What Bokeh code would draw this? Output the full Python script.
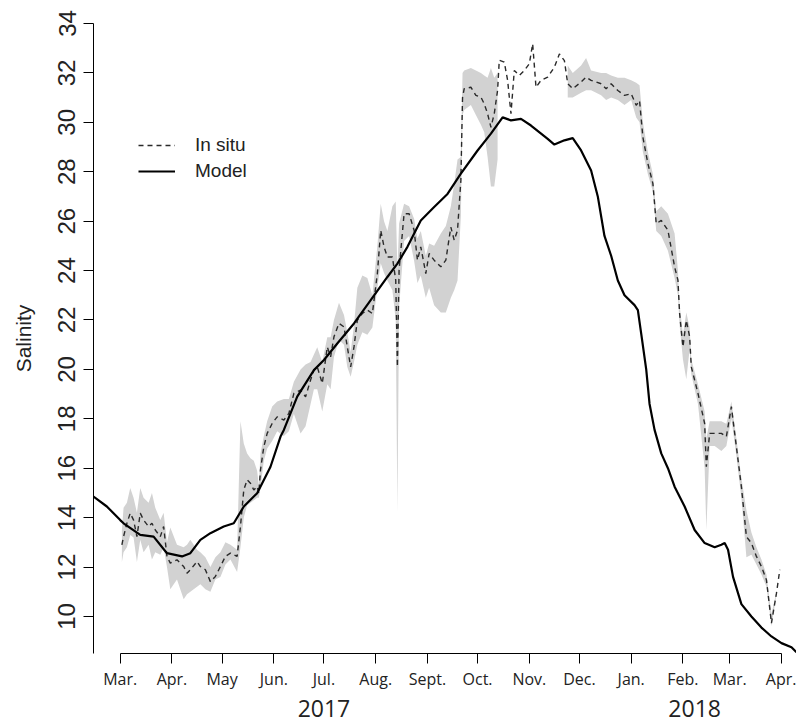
import math
import pandas as pd
from bokeh.plotting import figure
from bokeh.models import FixedTicker, LinearAxis, Legend, LegendItem, Range1d
from bokeh.embed import file_html
from bokeh.resources import INLINE

ORIGIN = pd.Timestamp("2017-03-01")

# ---- axis ticks ----
tick_dates = ["2017-03-01", "2017-04-01", "2017-05-01", "2017-06-01", "2017-07-01",
              "2017-08-01", "2017-09-01", "2017-10-01", "2017-11-01", "2017-12-01",
              "2018-01-01", "2018-02-01", "2018-03-01", "2018-04-01"]
tick_labels = ["Mar.", "Apr.", "May", "Jun.", "Jul.", "Aug.", "Sept.", "Oct.", "Nov.",
               "Dec.", "Jan.", "Feb.", "Mar.", "Apr."]
year_dates = ["2017-07-01", "2018-02-08"]
year_labels = ["2017", "2018"]
y_ticks = [10, 12, 14, 16, 18, 20, 22, 24, 26, 28, 30, 32, 34]
y_limits = [8.5, 34]

# ---- model (solid line) ----
model_dates = ["2017-02-13", "2017-02-21", "2017-03-01", "2017-03-03", "2017-03-13", "2017-03-21",
               "2017-03-29", "2017-04-07", "2017-04-12", "2017-04-18", "2017-04-24", "2017-05-02",
               "2017-05-08", "2017-05-14", "2017-05-22", "2017-05-30", "2017-06-05", "2017-06-07",
               "2017-06-15", "2017-06-25", "2017-07-01", "2017-07-09", "2017-07-19", "2017-07-29",
               "2017-08-08", "2017-08-14", "2017-08-20", "2017-08-28", "2017-09-05", "2017-09-13",
               "2017-09-21", "2017-10-01", "2017-10-09", "2017-10-16", "2017-10-21", "2017-10-27",
               "2017-11-02", "2017-11-12", "2017-11-16", "2017-11-22", "2017-11-27", "2017-12-02",
               "2017-12-08", "2017-12-12", "2017-12-16", "2017-12-20", "2017-12-24", "2017-12-28",
               "2018-01-03", "2018-01-05", "2018-01-07", "2018-01-10", "2018-01-12", "2018-01-15",
               "2018-01-19", "2018-01-23", "2018-01-27", "2018-02-02", "2018-02-08", "2018-02-14",
               "2018-02-20", "2018-02-24", "2018-02-26", "2018-02-28", "2018-03-03", "2018-03-08",
               "2018-03-14", "2018-03-20", "2018-03-26", "2018-04-01", "2018-04-07", "2018-04-10"]
model_sal = [14.85, 14.45, 13.9, 13.77, 13.3, 13.23,
             12.56, 12.43, 12.56, 13.1, 13.37, 13.64,
             13.77, 14.45, 14.99, 16.06, 17.28, 17.55,
             18.9, 19.97, 20.38, 21.05, 21.86, 22.8,
             23.74, 24.28, 24.96, 26.03, 26.57, 27.1,
             27.92, 28.86, 29.54, 30.2, 30.08, 30.14,
             29.87, 29.33, 29.1, 29.27, 29.36, 28.86,
             28.05, 27.0, 25.4, 24.6, 23.6, 23.0,
             22.6, 22.4, 21.45, 20.0, 18.6, 17.55,
             16.6, 16.0, 15.25, 14.45, 13.5, 12.97,
             12.8, 12.9, 12.97, 12.7, 11.6, 10.5,
             10.0, 9.55, 9.19, 8.92, 8.75, 8.55]

# ---- in situ (dashed line) with min / max envelope (grey band; None = no band) ----
insitu_dates = ["2017-03-02", "2017-03-03", "2017-03-05", "2017-03-07", "2017-03-09", "2017-03-11",
                "2017-03-13", "2017-03-15", "2017-03-18", "2017-03-20", "2017-03-22", "2017-03-25",
                "2017-03-27", "2017-03-29", "2017-03-31", "2017-04-04", "2017-04-08", "2017-04-10",
                "2017-04-12", "2017-04-16", "2017-04-18", "2017-04-21", "2017-04-24", "2017-04-27",
                "2017-04-30", "2017-05-03", "2017-05-06", "2017-05-10", "2017-05-12", "2017-05-14",
                "2017-05-16", "2017-05-18", "2017-05-20", "2017-05-22", "2017-05-23", "2017-05-24",
                "2017-05-26", "2017-05-28", "2017-05-31", "2017-06-03", "2017-06-07", "2017-06-10",
                "2017-06-13", "2017-06-17", "2017-06-20", "2017-06-23", "2017-06-25", "2017-06-27",
                "2017-06-30", "2017-07-03", "2017-07-05", "2017-07-07", "2017-07-10", "2017-07-13",
                "2017-07-15", "2017-07-17", "2017-07-19", "2017-07-21", "2017-07-24", "2017-07-27",
                "2017-07-30", "2017-08-02", "2017-08-04", "2017-08-06", "2017-08-08", "2017-08-11",
                "2017-08-13", "2017-08-14", "2017-08-15", "2017-08-18", "2017-08-21", "2017-08-24",
                "2017-08-26", "2017-08-28", "2017-08-31", "2017-09-02", "2017-09-05", "2017-09-09",
                "2017-09-12", "2017-09-15", "2017-09-17", "2017-09-19", "2017-09-21", "2017-09-22",
                "2017-09-23", "2017-09-27", "2017-09-30", "2017-10-03", "2017-10-05", "2017-10-07",
                "2017-10-09", "2017-10-11", "2017-10-13", "2017-10-14", "2017-10-17", "2017-10-19",
                "2017-10-21", "2017-10-23", "2017-10-26", "2017-10-29", "2017-11-01", "2017-11-03",
                "2017-11-05", "2017-11-08", "2017-11-12", "2017-11-16", "2017-11-19", "2017-11-22",
                "2017-11-24", "2017-11-27", "2017-12-02", "2017-12-05", "2017-12-08", "2017-12-14",
                "2017-12-17", "2017-12-20", "2017-12-24", "2017-12-28", "2018-01-01", "2018-01-04",
                "2018-01-06", "2018-01-08", "2018-01-11", "2018-01-14", "2018-01-16", "2018-01-19",
                "2018-01-23", "2018-01-27", "2018-01-29", "2018-01-30", "2018-02-01", "2018-02-03",
                "2018-02-05", "2018-02-06", "2018-02-10", "2018-02-14", "2018-02-15", "2018-02-17",
                "2018-02-20", "2018-02-24", "2018-02-27", "2018-03-02", "2018-03-05", "2018-03-08",
                "2018-03-11", "2018-03-14", "2018-03-17", "2018-03-20", "2018-03-23", "2018-03-26",
                "2018-03-29", "2018-03-31"]
insitu_sal = [12.9, 13.23, 13.77, 14.18, 13.9, 13.23,
              14.18, 13.9, 13.64, 13.77, 13.5, 13.23,
              13.64, 12.43, 12.16, 12.29, 12.02, 11.75,
              11.89, 12.22, 12.02, 11.89, 11.41, 11.62,
              12.02, 12.43, 12.56, 12.43, 13.64, 15.12,
              15.53, 15.39, 15.12, 15.26, 14.99, 15.93,
              16.87, 17.41, 17.81, 18.08, 17.95, 18.22,
              19.03, 19.16, 18.89, 19.57, 19.97, 20.1,
              19.43, 20.91, 20.51, 21.32, 21.86, 21.72,
              20.91, 20.1, 20.91, 21.99, 22.26, 22.4,
              22.26, 23.88, 25.63, 24.96, 24.55, 24.55,
              23.61, 20.1, 24.01, 26.3, 26.3, 25.63,
              24.42, 24.96, 23.88, 24.69, 24.42, 24.15,
              24.42, 25.76, 25.23, 25.63, 27.65, 31.0,
              31.36, 31.42, 31.09, 31.02, 30.75, 30.35,
              29.8, 30.35, 31.3, 32.51, 32.44, 31.7,
              30.35, 32.1, 31.9, 32.1, 32.37, 33.18,
              31.42, 31.7, 31.83, 32.23, 32.77, 32.5,
              31.56, 31.36, 31.63, 31.83, 31.7, 31.56,
              31.36, 31.56, 31.29, 31.09, 31.16, 30.69,
              30.88, 29.4, 28.33, 27.52, 25.9, 26.03,
              25.63, 24.15, 23.61, 22.26, 20.91, 21.99,
              21.32, 20.1, 19.03, 17.81, 16.06, 17.41,
              17.41, 17.41, 17.28, 18.49, 16.87, 15.25,
              13.23, 12.97, 12.43, 12.02, 11.48, 9.73,
              10.94, 11.89]
band_lo = [12.2, 12.6, 12.8, 13.3, 13.2, 12.2,
           13.1, 12.6, 12.9, 12.3, 12.6, 12.5,
           12.8, 12.0, 11.1, 11.5, 10.7, 10.9,
           11.0, 11.2, 11.3, 11.1, 11.0, 11.5,
           11.6, 12.1, 12.3, 11.8, 12.8, 14.0,
           14.5, 14.6, 14.7, 14.8, 14.8, 15.2,
           16.3, 16.8, 17.1, 17.5, 17.3, 17.5,
           18.2, 17.4, 17.7, 18.6, 19.2, 19.2,
           18.3, 19.4, 19.2, 20.5, 21.2, 21.0,
           20.1, 19.7, 20.3, 21.0, 21.5, 21.4,
           21.7, 23.3, 24.3, 23.9, 23.6, 23.2,
           22.0, 14.2, 22.5, 25.2, 25.4, 24.4,
           23.5, 23.8, 22.9, 23.3, 22.6, 22.3,
           22.3, 22.9, 23.2, 23.6, 26.2, 30.3,
           30.5, 30.7, 30.3, 29.9, 29.6, 28.6,
           27.4, 27.4, 28.5, None, None, None,
           None, None, None, None, None, None,
           None, None, None, None, None, None,
           31.0, 31.0, 31.2, 31.3, 31.3, 31.1,
           30.9, 31.0, 30.9, 30.7, 30.9, 30.2,
           30.0, 28.8, 27.9, 27.2, 25.6, 25.4,
           24.8, 23.7, 23.0, 21.8, 20.4, 19.6,
           20.8, 19.8, 18.6, 16.0, 13.5, 16.9,
           16.9, 16.7, 16.9, 18.0, 16.5, 14.8,
           12.4, 12.5, 12.1, 11.7, 11.2, 9.6,
           10.9, None]
band_hi = [13.5, 14.4, 14.6, 15.2, 14.8, 14.2,
           15.2, 14.8, 14.6, 15.0, 14.4, 13.9,
           14.2, 13.0, 13.6, 12.9, 12.8, 12.9,
           13.1, 12.7, 12.6, 12.4, 12.0, 12.4,
           12.6, 13.0, 12.9, 12.7, 17.9, 17.0,
           16.6, 16.4, 16.3, 15.9, 15.3, 16.6,
           17.3, 17.9, 18.5, 18.7, 18.8, 18.8,
           19.5, 20.0, 20.2, 20.3, 20.6, 20.9,
           20.3, 21.3, 21.3, 22.0, 22.7, 22.2,
           21.5, 20.7, 21.8, 23.3, 23.8, 23.7,
           23.0, 25.0, 26.7, 26.0, 25.6, 26.6,
           26.8, 24.0, 25.9, 26.7, 26.6, 26.1,
           25.3, 25.6, 24.6, 25.1, 25.0, 25.5,
           25.8, 26.6, 27.5, 28.5, 28.6, 32.0,
           32.1, 32.2, 32.1, 32.0, 31.9, 31.8,
           32.2, 31.8, 32.0, None, None, None,
           None, None, None, None, None, None,
           None, None, None, None, None, None,
           32.3, 32.0, 32.3, 32.6, 32.1, 32.0,
           32.0, 31.9, 31.8, 31.8, 31.7, 31.6,
           31.5, 30.0, 28.8, 27.9, 26.4, 26.6,
           26.3, 25.5, 24.0, 22.6, 21.4, 22.3,
           21.7, 20.4, 19.4, 18.3, 17.2, 17.9,
           17.9, 17.9, 17.8, 18.7, 17.2, 15.6,
           14.3, 13.4, 12.8, 12.3, 11.7, 10.1,
           11.0, None]


def to_days(dates):
    return [(pd.Timestamp(d) - ORIGIN).days for d in dates]


model_x = to_days(model_dates)
insitu_x = to_days(insitu_dates)
tick_x = to_days(tick_dates)
year_x = to_days(year_dates)

p = figure(width=796, height=724, output_backend="svg", toolbar_location=None,
           x_range=Range1d(min(model_x), max(model_x)),
           y_range=Range1d(y_limits[0], y_limits[1]),
           min_border_left=93, min_border_right=0, min_border_top=23, min_border_bottom=71)
p.background_fill_color = "white"
p.border_fill_color = "white"
p.outline_line_color = None
p.xgrid.visible = False
p.ygrid.visible = False

# grey min/max band, split into contiguous segments
seg = []
segments = []
for xv, lo, hi in zip(insitu_x, band_lo, band_hi):
    if lo is None:
        if seg:
            segments.append(seg)
        seg = []
    else:
        seg.append((xv, lo, hi))
if seg:
    segments.append(seg)
for s in segments:
    p.varea(x=[a[0] for a in s], y1=[a[1] for a in s], y2=[a[2] for a in s],
            fill_color="#d2d2d2", fill_alpha=1.0)

r_insitu = p.line(insitu_x, insitu_sal, line_color="#2a2a2a", line_width=1.4, line_dash="5 4")
r_model = p.line(model_x, model_sal, line_color="black", line_width=2.2)

# x axis (months)
xa = p.xaxis[0]
xa.ticker = FixedTicker(ticks=tick_x)
xa.major_label_overrides = {tx: lab for tx, lab in zip(tick_x, tick_labels)}
xa.bounds = (tick_x[0], tick_x[-1])
xa.major_tick_out = 10
xa.major_tick_in = 0
xa.minor_tick_line_color = None
xa.axis_line_color = "black"
xa.major_tick_line_color = "black"
xa.major_label_standoff = 4
xa.major_label_text_font = "Open Sans"
xa.major_label_text_font_size = "16px"
xa.major_label_text_color = "#222222"

# second x axis carrying the year labels
ya2 = LinearAxis(ticker=FixedTicker(ticks=year_x),
                 major_label_overrides={tx: lab for tx, lab in zip(year_x, year_labels)})
ya2.axis_line_color = None
ya2.major_tick_line_color = None
ya2.minor_tick_line_color = None
ya2.major_tick_out = 0
ya2.major_tick_in = 0
ya2.major_label_standoff = 7
ya2.major_label_text_font = "Open Sans"
ya2.major_label_text_font_size = "23px"
ya2.major_label_text_color = "#222222"
p.add_layout(ya2, "below")

# y axis
yax = p.yaxis[0]
yax.ticker = FixedTicker(ticks=y_ticks)
yax.major_label_orientation = "parallel"
yax.major_tick_out = 10
yax.major_tick_in = 0
yax.minor_tick_line_color = None
yax.major_label_standoff = 8
yax.major_label_text_font = "Liberation Sans"
yax.major_label_text_font_size = "24px"
yax.major_label_text_color = "#222222"
yax.axis_label = "Salinity"
yax.axis_label_text_font = "Liberation Sans"
yax.axis_label_text_font_style = "normal"
yax.axis_label_text_font_size = "21px"
yax.axis_label_standoff = 21
yax.axis_label_text_color = "#222222"

legend = Legend(items=[LegendItem(label="In situ", renderers=[r_insitu]),
                       LegendItem(label="Model", renderers=[r_model])],
                location=(45, 471), glyph_width=37, glyph_height=20, label_height=20,
                label_standoff=20, spacing=4, padding=0, margin=0,
                border_line_color=None, background_fill_alpha=0,
                label_text_font="Liberation Sans", label_text_font_size="19px",
                label_text_color="#222222")
p.add_layout(legend)

open("out.html", "w").write(file_html(p, INLINE))
